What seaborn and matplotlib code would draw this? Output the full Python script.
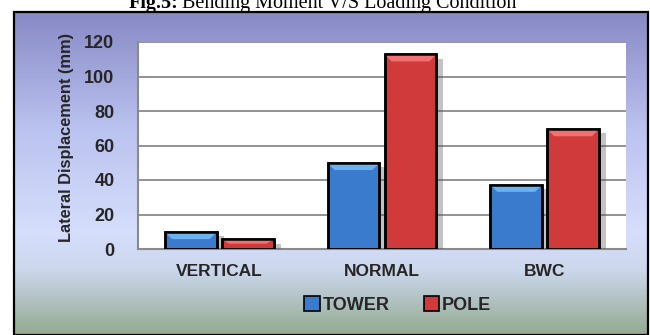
import numpy as np
import pandas as pd
import matplotlib
matplotlib.use("Agg")
import matplotlib.pyplot as plt
import matplotlib.patheffects as pe
from matplotlib.colors import LinearSegmentedColormap, to_hex
from matplotlib.patches import Rectangle, Polygon
import seaborn as sns

# Lateral displacement per loading condition
conditions = ["VERTICAL", "NORMAL", "BWC"]
tower = [9.8, 49.8, 37.2]
pole = [5.6, 112.8, 69.4]
series_names = ["TOWER", "POLE"]
yticks = [0, 20, 40, 60, 80, 100, 120]

df = pd.DataFrame({
    "condition": conditions * 2,
    "value": tower + pole,
    "series": [series_names[0]] * 3 + [series_names[1]] * 3,
})

sns.set_theme(style="white")
plt.rcParams["font.family"] = ["Liberation Sans", "DejaVu Sans"]

W, H = 650, 335
fig = plt.figure(figsize=(6.5, 3.35), dpi=100)
fig.patch.set_facecolor("white")

# gradient backdrop inside the framed panel
bg = fig.add_axes([14 / W, 0, (648 - 14) / W, 1 - 12 / H], zorder=-5)
stops = [(0.0, "#8789c5"), (0.36, "#bac2ef"), (0.68, "#d6defc"),
         (0.80, "#ccd7ec"), (1.0, "#93aa90")]
cmap = LinearSegmentedColormap.from_list("panel", stops)
bg.imshow(np.linspace(0, 1, 256).reshape(-1, 1), aspect="auto", cmap=cmap,
          extent=[0, 1, 1, 0])
bg.set_xlim(0, 1)
bg.set_ylim(1, 0)
bg.set_axis_off()
fig.patches.append(Rectangle((14 / W, 0), (648 - 14) / W, 1 - 12 / H,
                             transform=fig.transFigure, fill=False,
                             edgecolor="black", linewidth=1.6, zorder=10))

# caption above the panel
fig.text(178 / W, 1 - 8 / H, "Fig.5:", ha="right", va="baseline", fontsize=14.5,
         family="Liberation Serif", fontweight="bold", color="black")
fig.text(182 / W, 1 - 8 / H, "Bending Moment V/S Loading Condition",
         ha="left", va="baseline", fontsize=14.5, family="Liberation Serif",
         color="black")

ax = fig.add_axes([138 / W, 1 - 249 / H, (626 - 138) / W, (249 - 42) / H])
ax.set_facecolor("white")

palette = {"TOWER": "#3a7bcd", "POLE": "#d03a3a"}
sns.barplot(data=df, x="condition", y="value", hue="series", order=conditions,
            hue_order=series_names, palette=palette, width=0.7, gap=0.09,
            saturation=1, edgecolor="black", linewidth=1.8, ax=ax, legend=False,
            zorder=3)

ax.set_ylim(0, 120)
ax.set_yticks(yticks)
ax.set_xlim(-0.5, 2.5)
ax.yaxis.grid(True, color="#8a8a8a", linewidth=1.3, zorder=0)
ax.set_axisbelow(True)
for s in ["top", "right"]:
    ax.spines[s].set_visible(False)
for s in ["left", "bottom"]:
    ax.spines[s].set_color("#8a8a8a")
    ax.spines[s].set_linewidth(1.5)
ax.tick_params(axis="y", length=0, pad=17, labelsize=13)
ax.tick_params(axis="x", length=0, pad=11, labelsize=12.5)
for lab in ax.get_xticklabels() + ax.get_yticklabels():
    lab.set_fontweight("bold")
ax.set_xlabel("")
ax.set_ylabel("Lateral Displacement (mm)", fontsize=11.8, fontweight="bold")
ax.yaxis.set_label_coords(-0.132, 0.54)

# bevelled tops and soft drop shadows on each bar
light = {"#3a7bcd": "#6cb2f0", "#d03a3a": "#f27070"}
fig.canvas.draw()
inv = ax.transData.inverted()
for bar in ax.patches:
    if bar.get_height() <= 0:
        continue
    bar.set_path_effects([pe.SimplePatchShadow(offset=(5, -3), alpha=0.35,
                                               shadow_rgbFace="#555555"),
                          pe.Normal()])
    x0, y0 = bar.get_x(), bar.get_y()
    w, h = bar.get_width(), bar.get_height()
    # bevel depth: fixed pixel size converted to data units
    dx0, dy0 = ax.transData.transform((x0, y0 + h))
    inset = inv.transform((dx0 + 7, dy0 - 7))
    bx = inset[0] - x0
    by = min((y0 + h) - inset[1], h * 0.45)
    fc = to_hex(bar.get_facecolor())
    ax.add_patch(Polygon([(x0, y0 + h), (x0 + w, y0 + h),
                          (x0 + w - bx, y0 + h - by), (x0 + bx, y0 + h - by)],
                         closed=True, facecolor=light.get(fc, fc),
                         edgecolor="none", zorder=3.5))
    ax.add_patch(Rectangle((x0, y0), w, h, fill=False, edgecolor="black",
                           linewidth=1.8, zorder=3.6))

handles = [Rectangle((0, 0), 1, 1, facecolor=palette[n], edgecolor="black",
                     linewidth=1.2) for n in series_names]
fig.legend(handles, series_names, loc="center", bbox_to_anchor=(0.612, 1 - 305 / H),
           ncol=2, frameon=False, handlelength=0.85, handleheight=0.85,
           handletextpad=0.15, columnspacing=1.9,
           prop={"weight": "bold", "size": 13})

fig.savefig("out.png", dpi=100, facecolor=fig.get_facecolor())
